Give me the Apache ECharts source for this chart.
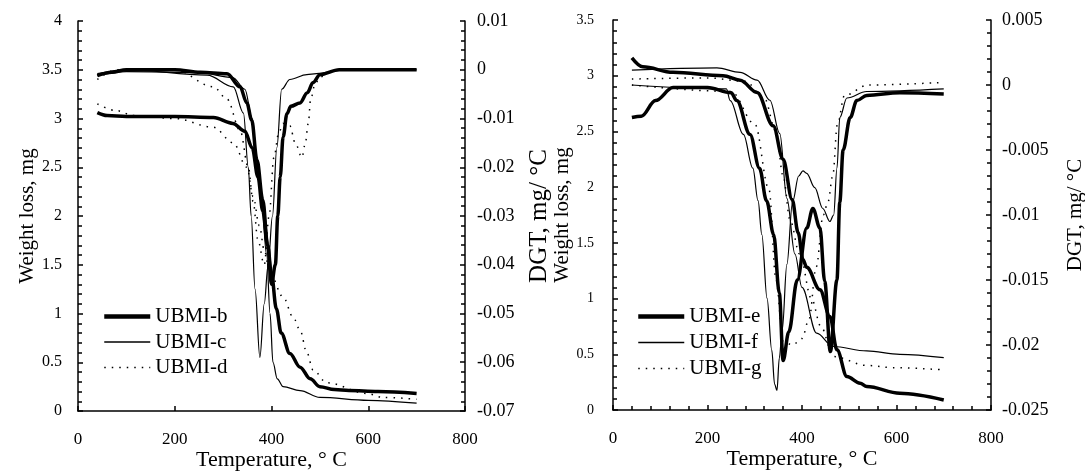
<!DOCTYPE html>
<html>
<head>
<meta charset="utf-8">
<script src="https://cdn.jsdelivr.net/npm/echarts@6/dist/echarts.min.js"></script>
<style>
  html, body { margin: 0; padding: 0; background: #fff; }
  #chart { width: 1085px; height: 472px; }
</style>
</head>
<body>
<div id="chart"></div>
<script>
// sample names
const leftNames = ['UBMI-b', 'UBMI-c', 'UBMI-d'];
const rightNames = ['UBMI-e', 'UBMI-f', 'UBMI-g'];

// [temperature °C, weight mg] / [temperature °C, DTG mg/°C]
const tgB = [[40,3.06],[60,3.03],[100,3.02],[200,3.02],[280,3.01],[320,2.95],[345,2.87],[360,2.7],[372,2.4],[382,2.05],[392,1.7],[400,1.4],[410,1.05],[420,0.8],[438,0.59],[459,0.45],[480,0.33],[500,0.25],[530,0.22],[560,0.21],[620,0.2],[700,0.18]];
const dtgB = [[40,-0.0012],[70,-0.0005],[100,0],[200,0],[253,-0.0005],[308,-0.0008],[335,-0.0035],[349,-0.0068],[359,-0.0103],[370,-0.0185],[382,-0.0267],[392,-0.036],[400,-0.044],[408,-0.04],[413,-0.03],[418,-0.022],[424,-0.0138],[432,-0.009],[440,-0.0075],[459,-0.0068],[474,-0.0047],[486,-0.0026],[500,-0.001],[540,0],[700,0]];
const tgC = [[40,3.44],[100,3.48],[250,3.47],[320,3.42],[345,3.3],[360,3.0],[370,2.6],[380,2.1],[390,1.6],[397,1.0],[403,0.5],[412,0.33],[424,0.25],[459,0.21],[500,0.14],[600,0.11],[700,0.08]];
const dtgC = [[40,-0.0008],[100,0],[267,-0.0011],[321,-0.0035],[342,-0.0089],[352,-0.02],[358,-0.03],[366,-0.045],[376,-0.059],[385,-0.048],[393,-0.04],[402,-0.03],[411,-0.016],[421,-0.004],[438,-0.002],[473,-0.001],[493,-0.0008],[550,0],[700,0]];
const tgD = [[40,3.15],[80,3.08],[115,3.03],[200,3.0],[280,2.91],[321,2.75],[349,2.5],[362,2.2],[375,1.9],[385,1.65],[397,1.41],[424,1.17],[445,0.96],[459,0.83],[473,0.6],[486,0.42],[514,0.29],[597,0.18],[630,0.14],[700,0.12]];
const dtgD = [[40,-0.002],[80,0],[200,0],[280,-0.0035],[308,-0.006],[335,-0.0124],[352,-0.02],[362,-0.027],[372,-0.035],[385,-0.04],[395,-0.03],[405,-0.018],[415,-0.013],[424,-0.011],[438,-0.0115],[449,-0.015],[463,-0.018],[470,-0.015],[476,-0.011],[481,-0.006],[490,-0.003],[500,-0.0015],[520,-0.0005],[540,0],[700,0]];

const tgE = [[40,3.16],[63,3.08],[127,3.03],[233,3.0],[269,2.96],[305,2.85],[339,2.55],[360,2.25],[379,1.89],[392,1.59],[402,1.35],[410,1.28],[438,1.08],[459,0.84],[474,0.54],[495,0.3],[523,0.24],[537,0.21],[607,0.15],[700,0.09]];
const dtgE = [[40,-0.0025],[60,-0.0024],[90,-0.0012],[127,-0.0002],[200,-0.0002],[250,-0.0006],[262,-0.0012],[290,-0.0038],[310,-0.0064],[325,-0.0089],[340,-0.0115],[352,-0.016],[360,-0.0212],[372,-0.019],[390,-0.015],[410,-0.011],[423,-0.0095],[438,-0.011],[448,-0.0151],[460,-0.0205],[474,-0.015],[480,-0.009],[487,-0.005],[502,-0.0025],[516,-0.0012],[537,-0.0008],[607,-0.0006],[700,-0.0007]];
const tgF = [[40,3.05],[220,3.07],[269,3.03],[305,2.96],[332,2.78],[353,2.48],[368,1.9],[385,1.4],[400,1.1],[431,0.69],[466,0.57],[537,0.53],[607,0.5],[700,0.47]];
const dtgF = [[40,0],[240,-0.0003],[248,-0.0012],[276,-0.0038],[296,-0.0064],[307,-0.0089],[315,-0.0115],[326,-0.0164],[336,-0.0204],[342,-0.023],[347,-0.0235],[352,-0.021],[358,-0.0189],[368,-0.0138],[380,-0.009],[393,-0.007],[402,-0.0066],[410,-0.0068],[427,-0.0079],[444,-0.0095],[459,-0.0105],[467,-0.01],[474,-0.0064],[480,-0.0025],[495,-0.001],[537,-0.0005],[700,-0.0003]];
const tgG = [[40,2.97],[200,2.98],[280,2.95],[320,2.8],[345,2.5],[360,2.1],[375,1.7],[395,1.4],[420,1.0],[440,0.75],[466,0.48],[537,0.4],[593,0.38],[700,0.36]];
const dtgG = [[40,0],[250,-0.0005],[300,-0.003],[330,-0.008],[345,-0.015],[360,-0.0197],[380,-0.02],[400,-0.0195],[415,-0.018],[430,-0.014],[445,-0.01],[455,-0.009],[465,-0.007],[475,-0.003],[490,-0.0008],[540,0],[700,0.0002]];

const font = 'Liberation Serif';
const thick = { color: '#000', width: 3.5 };
const thin = { color: '#000', width: 1.2 };
const dots = { color: '#000', width: 1.5, type: [1.5, 6] };

function line(name, data, xi, yi, style) {
  return {
    name: name, type: 'line', data: data,
    xAxisIndex: xi, yAxisIndex: yi,
    symbol: 'none', smooth: 0.35, smoothMonotone: 'x',
    lineStyle: style, itemStyle: { color: '#000' },
    emphasis: { disabled: true }
  };
}

function xAx(grid, minor) {
  return {
    type: 'value', gridIndex: grid, min: 0, max: 800, interval: 200,
    name: 'Temperature, ° C', nameLocation: 'middle', nameGap: 38, nameMoveOverlap: false,
    nameTextStyle: { fontFamily: font, fontSize: 22, color: '#000' },
    axisLine: { lineStyle: { color: '#000', width: 1.5 } },
    axisTick: { inside: true, length: 5, lineStyle: { color: '#000', width: 1.5 } },
    minorTick: { show: minor, splitNumber: 5, length: 4, lineStyle: { color: '#000', width: 1.5 } },
    axisLabel: { fontFamily: font, fontSize: 17, color: '#000', margin: 20 },
    splitLine: { show: false }
  };
}

function yAx(grid, pos, min, max, interval, name, nameGap, labelSize, nameSize, margin) {
  return {
    type: 'value', gridIndex: grid, position: pos, min: min, max: max, interval: interval,
    name: name, nameLocation: 'middle', nameGap: nameGap, nameRotate: 90,
    nameTextStyle: { fontFamily: font, fontSize: nameSize, color: '#000' },
    axisLine: { show: true, onZero: false, lineStyle: { color: '#000', width: 1.5 } },
    axisTick: { inside: true, length: 5, lineStyle: { color: '#000', width: 1.5 } },
    minorTick: { show: true, splitNumber: 5, length: 4, lineStyle: { color: '#000', width: 1.5 } },
    axisLabel: { fontFamily: font, fontSize: labelSize, color: '#000', margin: margin },
    splitLine: { show: false }
  };
}

function legendItems(names) {
  return [
    { name: names[0], lineStyle: { width: 4.5 } },
    { name: names[1], lineStyle: { width: 1.5 } },
    { name: names[2], lineStyle: { width: 1.5 } }
  ];
}

const chart = echarts.init(document.getElementById('chart'));
chart.setOption({
  animation: false,
  backgroundColor: '#fff',
  grid: [
    { left: 78, top: 21, width: 387, height: 390, outerBoundsMode: 'none' },
    { left: 613, top: 20, width: 378, height: 390, outerBoundsMode: 'none' }
  ],
  legend: [
    {
      data: legendItems(leftNames), orient: 'vertical', left: 97, top: 301,
      itemWidth: 46, itemHeight: 20, itemGap: 4.5,
      itemStyle: { opacity: 0 },
      textStyle: { fontFamily: font, fontSize: 21, color: '#000' }
    },
    {
      data: legendItems(rightNames), orient: 'vertical', left: 631, top: 301,
      itemWidth: 46, itemHeight: 20, itemGap: 5,
      itemStyle: { opacity: 0 },
      textStyle: { fontFamily: font, fontSize: 21, color: '#000' }
    }
  ],
  xAxis: [xAx(0, false), xAx(1, true)],
  yAxis: [
    yAx(0, 'left', 0, 4, 0.5, 'Weight loss, mg', 40, 16, 21, 16),
    yAx(0, 'right', -0.07, 0.01, 0.01, 'DGT, mg/ °C', 62, 18, 25, 12),
    yAx(1, 'left', 0, 3.5, 0.5, 'Weight loss, mg', 37, 14, 21, 19),
    yAx(1, 'right', -0.025, 0.005, 0.005, 'DGT, mg/ °C', 74, 18, 21, 11)
  ],
  series: [
    line('UBMI-b', tgB, 0, 0, thick),
    line('UBMI-b', dtgB, 0, 1, thick),
    line('UBMI-c', tgC, 0, 0, thin),
    line('UBMI-c', dtgC, 0, 1, thin),
    line('UBMI-d', tgD, 0, 0, dots),
    line('UBMI-d', dtgD, 0, 1, dots),
    line('UBMI-e', tgE, 1, 2, thick),
    line('UBMI-e', dtgE, 1, 3, thick),
    line('UBMI-f', tgF, 1, 2, thin),
    line('UBMI-f', dtgF, 1, 3, thin),
    line('UBMI-g', tgG, 1, 2, dots),
    line('UBMI-g', dtgG, 1, 3, dots)
  ]
});
</script>
</body>
</html>
